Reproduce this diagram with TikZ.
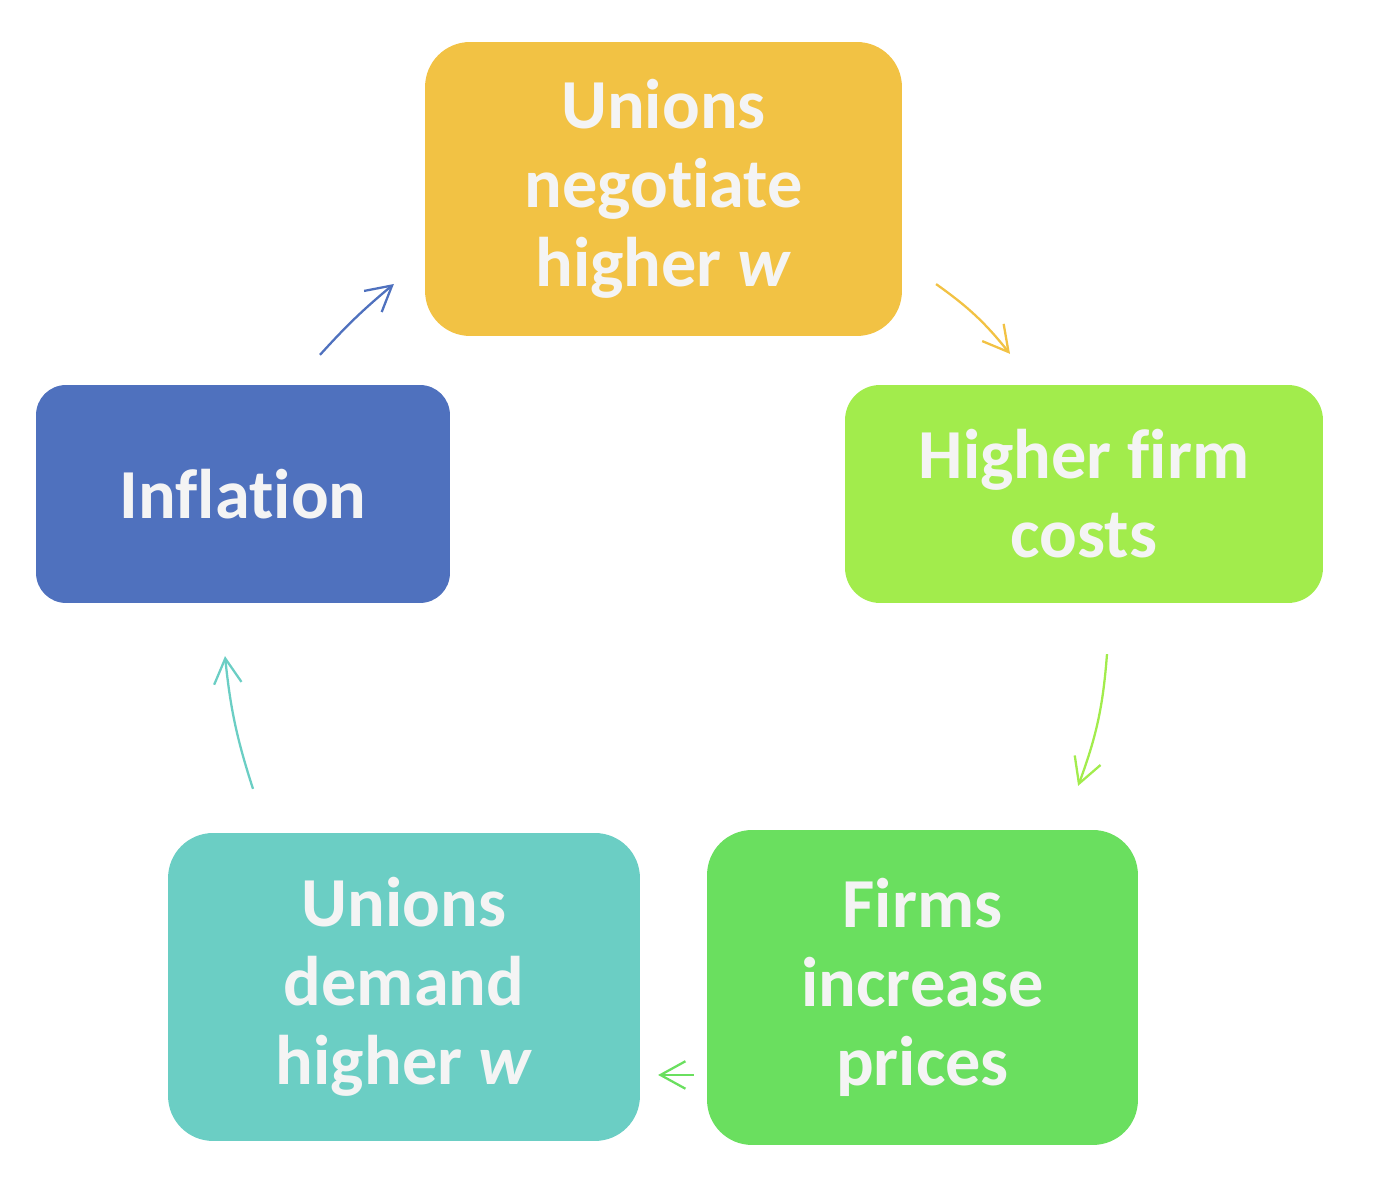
\documentclass[tikz,border=0pt]{standalone}
\usepackage{fontspec}
\setmainfont[Ligatures=NoCommon]{Carlito}
\usetikzlibrary{arrows.meta}
\definecolor{negyellow}{HTML}{F2C244}
\definecolor{costgreen}{HTML}{A2EC4C}
\definecolor{pricegreen}{HTML}{6ADF5F}
\definecolor{demandteal}{HTML}{6BCEC4}
\definecolor{inflblue}{HTML}{4F71BE}
\definecolor{boxtext}{HTML}{F4F4F4}

\begin{document}
\begin{tikzpicture}[->,>={Straight Barb[length=5mm,width=5.5mm]},x=0.02cm,y=0.02cm,line width=1.3pt,box node/.style={rounded corners=0.9cm,inner sep=0pt,align=center,text=boxtext,font=\fontsize{40}{45}\selectfont\bfseries}]
  \useasboundingbox (0,0) rectangle (1374,1200);
  \node[box node,fill=negyellow,minimum width=9.54cm,minimum height=5.88cm] (neg) at (663.5,1011) {Unions\\negotiate\\higher \textit{w}};
  \node[box node,fill=costgreen,rounded corners=0.7cm,minimum width=9.56cm,minimum height=4.36cm] (costs) at (1084,706) {Higher firm\\costs};
  \node[box node,fill=pricegreen,minimum width=8.62cm,minimum height=6.3cm] (prices) at (922.5,212.5) {Firms\\increase\\prices};
  \node[box node,fill=demandteal,minimum width=9.44cm,minimum height=6.16cm] (demand) at (404,213) {Unions\\demand\\higher \textit{w}};
  \node[box node,fill=inflblue,rounded corners=0.6cm,minimum width=8.28cm,minimum height=4.36cm] (infl) at (243,706) {Inflation};

\path
  ([shift={(33,53)}]neg.south east) edge[draw=negyellow,bend left=8] ([shift={(-74,30)}]costs.north)
  ([shift={(23,-50)}]costs.south) edge[draw=costgreen,bend left=8] ([shift={(-61,43)}]prices.north east)
  ([shift={(-12,-87.5)}]prices.west) edge[draw=pricegreen] ([shift={(17,-88)}]demand.east)
  ([shift={(-151,43)}]demand.north) edge[draw=demandteal,bend left=6] ([shift={(-18,-52)}]infl.south)
  ([shift={(77,29)}]infl.north) edge[draw=inflblue,bend left=4] ([shift={(-30,-95)}]neg.west)
;
\end{tikzpicture}
\end{document}
